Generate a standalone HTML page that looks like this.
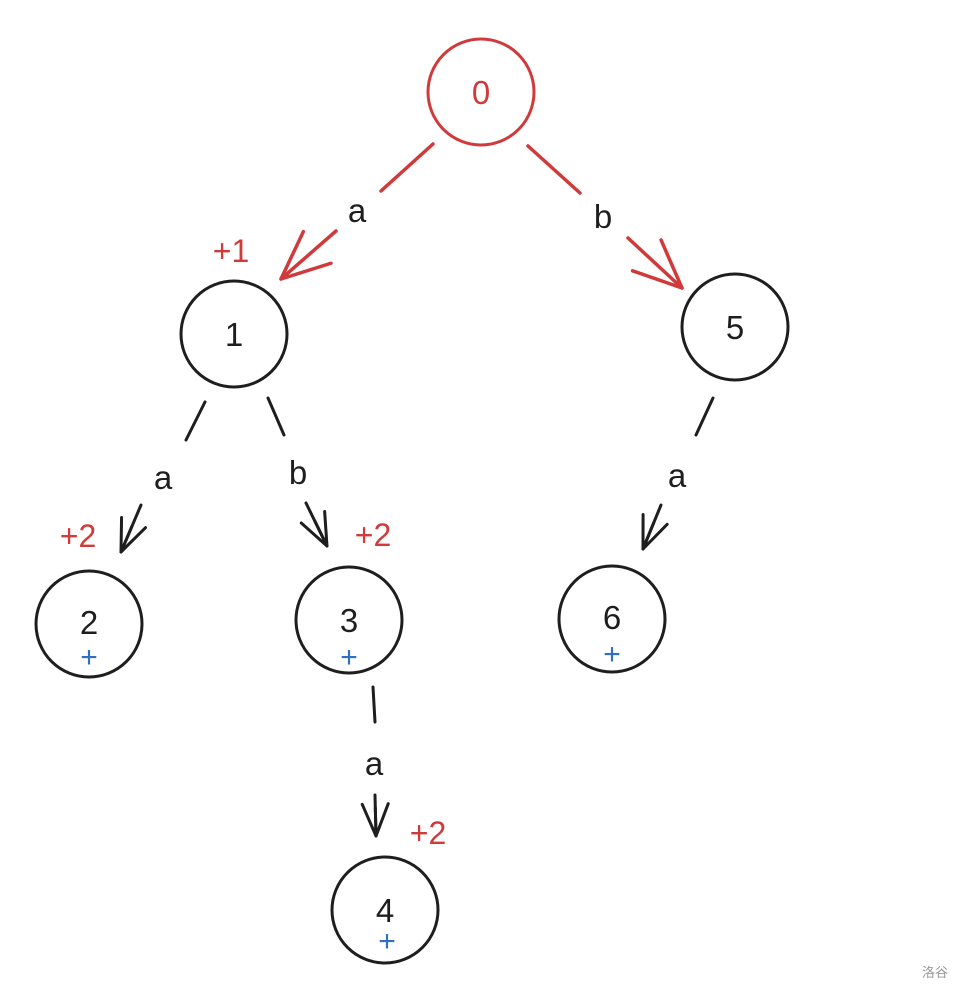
<!DOCTYPE html>
<html><head><meta charset="utf-8"><style>
html,body{margin:0;padding:0;background:#fff;}
svg{display:block;}
text{font-family:"Liberation Sans",sans-serif;}
</style></head><body>
<svg width="964" height="994" viewBox="0 0 964 994" xmlns="http://www.w3.org/2000/svg">
<defs>
<marker id="ar" markerUnits="userSpaceOnUse" markerWidth="80" markerHeight="60" refX="0" refY="0" viewBox="-60 -30 70 60" orient="auto" overflow="visible">
<path d="M -48 -21 L 0 0 L -48 21" fill="none" stroke="#d03a3a" stroke-width="3.5" stroke-linecap="round" stroke-linejoin="round"/>
</marker>
<marker id="ab" markerUnits="userSpaceOnUse" markerWidth="60" markerHeight="40" refX="0" refY="0" viewBox="-40 -20 50 40" orient="auto" overflow="visible">
<path d="M -32 -13 L 0 0 L -32 13 M -28 0 L 0 0" fill="none" stroke="#1e1e1e" stroke-width="3" stroke-linecap="round" stroke-linejoin="round"/>
</marker>
</defs>
<g fill="none" stroke-width="3" stroke-linecap="round">
<circle cx="481" cy="92" r="53" stroke="#d03a3a"/>
<circle cx="234" cy="334" r="53" stroke="#1e1e1e"/>
<circle cx="735" cy="327" r="53" stroke="#1e1e1e"/>
<circle cx="89" cy="624" r="53" stroke="#1e1e1e"/>
<circle cx="349" cy="620" r="53" stroke="#1e1e1e"/>
<circle cx="612" cy="619" r="53" stroke="#1e1e1e"/>
<circle cx="385" cy="910" r="53" stroke="#1e1e1e"/>
<g stroke="#d03a3a" stroke-width="3.5">
<line x1="433" y1="144" x2="381" y2="191"/>
<line x1="336" y1="231" x2="281" y2="279" marker-end="url(#ar)"/>
<line x1="528" y1="146" x2="580" y2="193"/>
<line x1="628" y1="238" x2="682" y2="288" marker-end="url(#ar)"/>
</g>
<g stroke="#1e1e1e">
<line x1="205" y1="402" x2="186" y2="440"/>
<line x1="141" y1="505" x2="121" y2="552" marker-end="url(#ab)"/>
<line x1="268" y1="398" x2="284" y2="435"/>
<line x1="306" y1="503" x2="327" y2="546" marker-end="url(#ab)"/>
<line x1="713" y1="398" x2="696" y2="435"/>
<line x1="661" y1="505" x2="643" y2="549" marker-end="url(#ab)"/>
<line x1="373" y1="687" x2="375" y2="722"/>
<line x1="375" y1="795" x2="376" y2="836" marker-end="url(#ab)"/>
</g>
</g>
<g font-size="33" text-anchor="middle" fill="#1e1e1e">
<text x="481" y="104" fill="#d03a3a">0</text>
<text x="234" y="346">1</text>
<text x="735" y="339">5</text>
<text x="89" y="634">2</text>
<text x="349" y="632">3</text>
<text x="612" y="629">6</text>
<text x="385" y="922">4</text>
<text x="357" y="222">a</text>
<text x="603" y="228">b</text>
<text x="163" y="489">a</text>
<text x="298" y="484">b</text>
<text x="677" y="487">a</text>
<text x="374" y="775">a</text>
</g>
<g font-size="32" text-anchor="middle" fill="#d03a3a">
<text x="231" y="262">+1</text>
<text x="78" y="547">+2</text>
<text x="373" y="546">+2</text>
<text x="428" y="844">+2</text>
</g>
<g font-size="30" text-anchor="middle" fill="#2f6fc4">
<text x="89" y="667">+</text>
<text x="349" y="667">+</text>
<text x="612" y="664">+</text>
<text x="387" y="951">+</text>
</g>
<text x="935" y="977" font-size="13" text-anchor="middle" fill="#999" style="font-family:'Liberation Sans','Noto Sans CJK SC',sans-serif">洛谷</text>
</svg>
</body></html>
